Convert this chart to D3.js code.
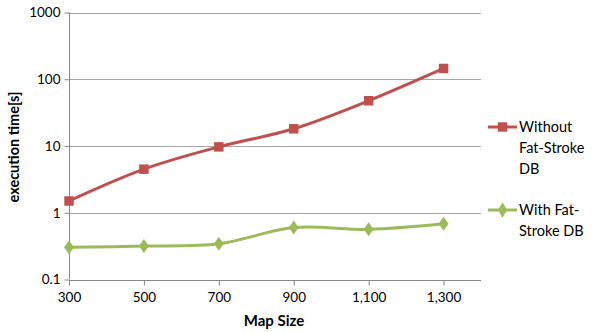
<!DOCTYPE html>
<html>
<head>
<meta charset="utf-8">
<script src="https://cdn.jsdelivr.net/npm/d3@7/dist/d3.min.js"></script>
<style>
  html, body { margin: 0; padding: 0; background: #fff; }
  svg { display: block; }
  text { font-family: Lato, "Open Sans", sans-serif; fill: #000; }
</style>
</head>
<body>
<svg id="chart" width="593" height="332"></svg>
<script>
// Map sizes (x) and execution times in seconds (y, log scale)
const mapSizes = [300, 500, 700, 900, 1100, 1300];
const withoutDB = [1.5, 4.5, 9.7, 18.1, 47.6, 145];
const withDB = [0.303, 0.317, 0.343, 0.60, 0.564, 0.684];
const yTicks = [0.1, 1, 10, 100, 1000];
const xTicks = [300, 500, 700, 900, 1100, 1300];
const seriesNames = [["Without", "Fat-Stroke", "DB"], ["With Fat-", "Stroke DB"]];

const svg = d3.select("#chart");
const plotLeft = 69, plotRight = 481, plotTop = 12.5, plotBottom = 279.5;

const x = d3.scaleLinear().domain([300, 1400]).range([plotLeft, plotRight]);
const y = d3.scaleLog().domain([0.1, 1000]).range([plotBottom, plotTop]);

const gridColor = "#a6a6a6";
const axisColor = "#868686";

// horizontal gridlines
svg.append("g").selectAll("line").data(yTicks.slice(1)).join("line")
  .attr("x1", plotLeft).attr("x2", plotRight)
  .attr("y1", d => Math.round(y(d)) + 0.5).attr("y2", d => Math.round(y(d)) + 0.5)
  .attr("stroke", gridColor).attr("stroke-width", 1);

// y axis
const yAxis = d3.axisLeft(y).tickValues(yTicks)
  .tickFormat(d => String(d)).tickSize(5).tickPadding(4);
const gy = svg.append("g").attr("transform", `translate(${plotLeft + 0.5},0)`).call(yAxis);
gy.select(".domain").attr("stroke", axisColor).attr("d", `M0,${plotTop}V${plotBottom}`);
gy.selectAll(".tick line").attr("stroke", axisColor);
gy.selectAll(".tick text").style("font-size", "13.5px").attr("fill", "#000");

// x axis
const xAxis = d3.axisBottom(x).tickValues(xTicks)
  .tickFormat(d3.format(",")).tickSize(5).tickPadding(7);
const gx = svg.append("g").attr("transform", `translate(0,${Math.round(y(0.1)) + 0.5})`).call(xAxis);
gx.select(".domain").attr("stroke", axisColor).attr("d", `M${plotLeft},0H${plotRight}`);
gx.selectAll(".tick line").attr("stroke", axisColor);
gx.selectAll(".tick text").style("font-size", "13.5px").attr("fill", "#000");

// axis titles
svg.append("text")
  .attr("transform", `translate(19,147) rotate(-90)`)
  .attr("text-anchor", "middle")
  .style("font-size", "14.5px").style("font-weight", "bold")
  .text("execution time[s]");
svg.append("text")
  .attr("x", 274).attr("y", 326)
  .attr("text-anchor", "middle")
  .style("font-size", "15px").style("font-weight", "bold")
  .text("Map Size");

const line = d3.line().curve(d3.curveCatmullRom.alpha(0))
  .x((d, i) => x(mapSizes[i])).y(d => y(d));

const red = "#c0504d", green = "#9bbb59";

// series lines
svg.append("path").datum(withoutDB).attr("d", line)
  .attr("fill", "none").attr("stroke", red).attr("stroke-width", 3);
svg.append("path").datum(withDB).attr("d", line)
  .attr("fill", "none").attr("stroke", green).attr("stroke-width", 3);

// markers
const sq = d3.symbol().type(d3.symbolSquare).size(90);
const dia = d3.symbol().type(d3.symbolDiamond).size(70);
svg.append("g").selectAll("path").data(withoutDB).join("path")
  .attr("d", sq).attr("fill", red)
  .attr("transform", (d, i) => `translate(${x(mapSizes[i])},${y(d)})`);
svg.append("g").selectAll("path").data(withDB).join("path")
  .attr("d", dia).attr("fill", green)
  .attr("transform", (d, i) => `translate(${x(mapSizes[i])},${y(d)}) scale(1.1,0.9)`);

// legend
const legend = [
  { color: red, shape: sq, y0: 127, lines: seriesNames[0] },
  { color: green, shape: dia, y0: 210, lines: seriesNames[1] }
];
legend.forEach(item => {
  const g = svg.append("g");
  g.append("line").attr("x1", 488).attr("x2", 517)
    .attr("y1", item.y0).attr("y2", item.y0)
    .attr("stroke", item.color).attr("stroke-width", 3);
  g.append("path").attr("d", item.shape).attr("fill", item.color)
    .attr("transform", `translate(502.5,${item.y0})`);
  item.lines.forEach((t, k) => {
    g.append("text").attr("x", 519).attr("y", item.y0 + k * 21)
      .attr("dy", "0.35em").style("font-size", "14.5px").text(t);
  });
});
</script>
</body>
</html>
